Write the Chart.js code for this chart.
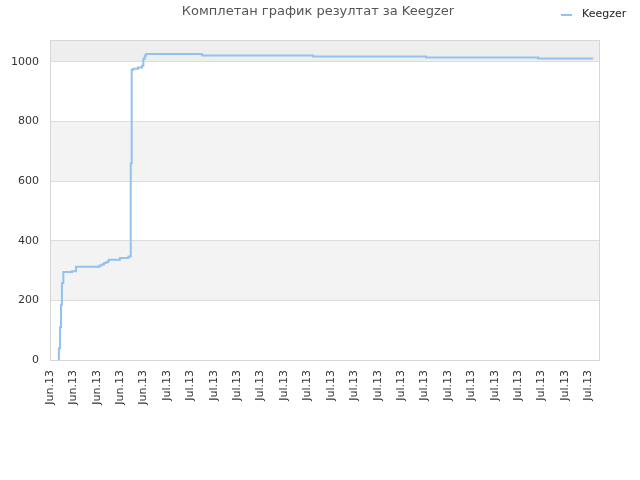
<!DOCTYPE html>
<html lang="sr">
<head>
  <meta charset="UTF-8" />
  <title>Комплетан график резултат за Keegzer</title>
  <style>
    body { margin: 0; background: #fff; }
    #wrap { width: 640px; height: 480px; }
  </style>
</head>
<body>
  <div id="wrap">
    <canvas id="scoreChart" width="640" height="480"></canvas>
  </div>

  <script src="https://cdn.jsdelivr.net/npm/chart.js"></script>
  <script>
    const chartTitle = 'Комплетан график резултат за Keegzer';
    const seriesName = 'Keegzer';

    // x positions in tick units (0 = first label), y = score
    const stepX = [0.37, 0.38, 0.43, 0.47, 0.51, 0.57, 0.94, 1.11, 2.11, 2.21, 2.31, 2.39, 2.48, 2.52,
                   2.99, 3.35, 3.45, 3.49, 3.56, 3.76, 3.93, 3.99, 4.05, 4.10, 6.50, 11.24, 16.07, 20.86, 23.21];
    const stepY = [0, 39, 110, 185, 257, 295, 298, 313, 317, 320, 325, 328, 333, 336,
                   342, 347, 660, 973, 977, 981, 987, 1010, 1020, 1026, 1021, 1018, 1014, 1011, 1011];

    const tickLabels = ['Jun.13', 'Jun.13', 'Jun.13', 'Jun.13', 'Jun.13',
                        'Jul.13', 'Jul.13', 'Jul.13', 'Jul.13', 'Jul.13', 'Jul.13', 'Jul.13',
                        'Jul.13', 'Jul.13', 'Jul.13', 'Jul.13', 'Jul.13', 'Jul.13', 'Jul.13',
                        'Jul.13', 'Jul.13', 'Jul.13', 'Jul.13', 'Jul.13'];

    const lineColor = '#92c1f2';

    // background bands, plot border, title and legend
    const decor = {
      id: 'decor',
      beforeDraw(chart) {
        const { ctx, chartArea: a, scales: { y } } = chart;
        ctx.save();
        ctx.fillStyle = '#ffffff';
        ctx.fillRect(a.left, a.top, a.right - a.left, a.bottom - a.top);
        const edges = [0, 200, 400, 600, 800, 1000, y.max];
        for (let i = 0; i < edges.length - 1; i++) {
          if (i % 2 === 0) continue;
          ctx.fillStyle = i === 5 ? '#eeeeee' : '#f3f3f3';
          const top = y.getPixelForValue(edges[i + 1]);
          const bot = y.getPixelForValue(edges[i]);
          ctx.fillRect(a.left, top, a.right - a.left, bot - top);
        }
        ctx.restore();
      },
      beforeDatasetsDraw(chart) {
        const { ctx, chartArea: a } = chart;
        ctx.save();
        ctx.strokeStyle = '#d6d6d6';
        ctx.lineWidth = 1;
        ctx.strokeRect(a.left + 0.5, a.top + 0.5, a.right - a.left - 1, a.bottom - a.top);
        ctx.restore();
      },
      afterDraw(chart) {
        const { ctx } = chart;
        ctx.save();
        ctx.fillStyle = '#555555';
        ctx.font = '13px "DejaVu Sans"';
        ctx.textAlign = 'center';
        ctx.textBaseline = 'middle';
        ctx.fillText(chartTitle, 318, 12);

        ctx.strokeStyle = lineColor;
        ctx.lineWidth = 2;
        ctx.beginPath();
        ctx.moveTo(561, 15);
        ctx.lineTo(572, 15);
        ctx.stroke();
        ctx.fillStyle = '#222222';
        ctx.font = '11px "DejaVu Sans"';
        ctx.textAlign = 'left';
        ctx.fillText(seriesName, 582, 14);
        ctx.restore();
      }
    };

    new Chart(document.getElementById('scoreChart').getContext('2d'), {
      type: 'line',
      data: {
        datasets: [{
          label: seriesName,
          data: stepX.map((x, i) => ({ x: x, y: stepY[i] })),
          stepped: true,
          borderColor: lineColor,
          borderWidth: 2,
          pointRadius: 0,
          fill: false
        }]
      },
      options: {
        responsive: false,
        animation: false,
        layout: { padding: { top: 40, right: 40, left: 0, bottom: 0 } },
        plugins: {
          legend: { display: false },
          title: { display: false },
          tooltip: { enabled: false }
        },
        scales: {
          x: {
            type: 'linear',
            min: 0,
            max: 23.5,
            grid: { display: false, drawTicks: false },
            border: { display: false },
            afterFit(scale) { scale.height = 120; },
            ticks: {
              stepSize: 1,
              includeBounds: false,
              autoSkip: false,
              maxRotation: 90,
              minRotation: 90,
              padding: 10,
              color: '#333333',
              font: { family: 'DejaVu Sans', size: 11 },
              callback: (v) => tickLabels[v]
            }
          },
          y: {
            min: 0,
            max: 1073,
            grid: { color: '#dddddd', drawTicks: false },
            border: { display: false },
            afterFit(scale) { scale.width = 50; },
            ticks: {
              stepSize: 200,
              includeBounds: false,
              padding: 11,
              color: '#333333',
              font: { family: 'DejaVu Sans', size: 11 },
              callback: (v) => String(v)
            }
          }
        }
      },
      plugins: [decor]
    });
  </script>
</body>
</html>
